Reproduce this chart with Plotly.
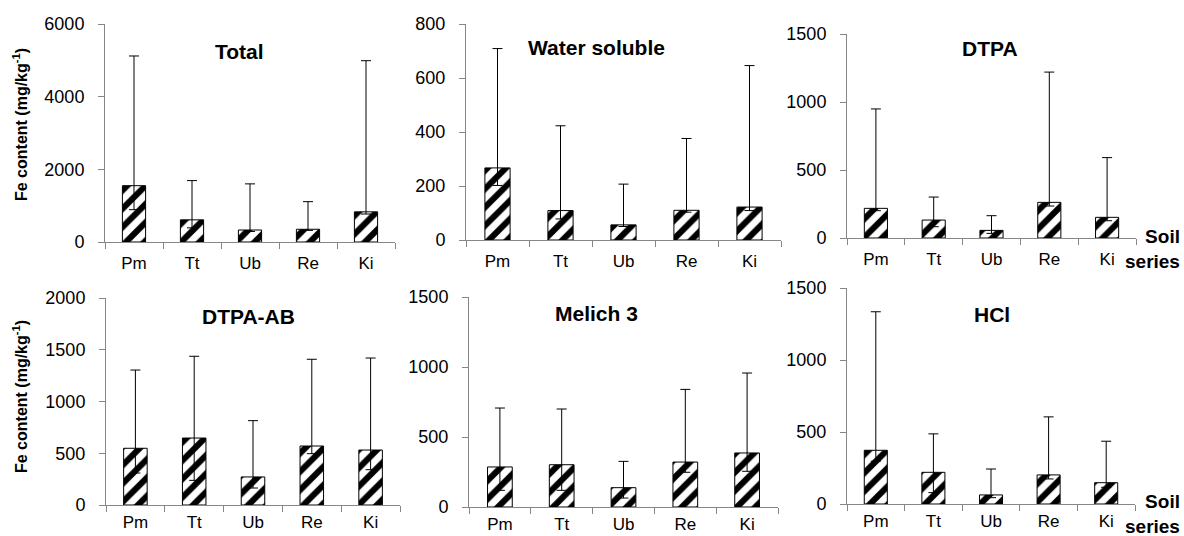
import plotly.graph_objects as go

W, H = 1184, 536

soil = ["Pm", "Tt", "Ub", "Re", "Ki"]

titles = ["Total", "Water soluble", "DTPA", "DTPA-AB", "Melich 3", "HCl"]

# mean (bar), min (lower whisker), max (upper whisker)
total_mean = [1550, 610, 330, 350, 830]
total_min = [890, 390, 290, 320, 770]
total_max = [5120, 1690, 1600, 1110, 4990]

ws_mean = [267, 109, 56, 110, 122]
ws_min = [202, 78, 50, 103, 109]
ws_max = [709, 423, 207, 376, 646]

dtpa_mean = [218, 132, 56, 262, 152]
dtpa_min = [201, 83, 34, 235, 127]
dtpa_max = [949, 301, 164, 1220, 591]

dtpaab_mean = [548, 647, 271, 570, 531]
dtpaab_min = [309, 238, 164, 496, 341]
dtpaab_max = [1304, 1437, 815, 1408, 1420]

mel_mean = [286, 302, 138, 321, 386]
mel_min = [119, 119, 64, 248, 255]
mel_max = [707, 700, 326, 840, 957]

hcl_mean = [373, 220, 63, 202, 148]
hcl_min = [297, 79, 44, 174, 116]
hcl_max = [1335, 487, 243, 605, 436]

y_max = [6000, 800, 1500, 2000, 1500, 1500]
y_dtick = [2000, 200, 500, 500, 500, 500]

series = [
    (total_mean, total_min, total_max),
    (ws_mean, ws_min, ws_max),
    (dtpa_mean, dtpa_min, dtpa_max),
    (dtpaab_mean, dtpaab_min, dtpaab_max),
    (mel_mean, mel_min, mel_max),
    (hcl_mean, hcl_min, hcl_max),
]

# layout (pixel boxes: x0, x1, y_bottom, y_top)
boxes = [
    (105, 395, 242, 24),
    (466, 781, 240, 24),
    (847, 1136, 238, 34),
    (106, 400, 505, 298),
    (469, 778, 507, 297),
    (847, 1135, 504, 288),
]
title_pos = [(239, 51), (596, 47), (990, 49), (248, 316), (596, 313), (992, 314)]

FONT = "Liberation Sans, Arial, sans-serif"
AXC = "#868686"

fig = go.Figure()
layout = dict(
    template="none",
    width=W, height=H, margin=dict(l=0, r=0, t=0, b=0, pad=0, autoexpand=False),
    paper_bgcolor="white", plot_bgcolor="white", showlegend=False,
    font=dict(family=FONT, size=18, color="black"),
)

for i, (mean, mn, mx) in enumerate(series):
    k = "" if i == 0 else str(i + 1)
    fig.add_trace(go.Bar(
        x=soil, y=mean,
        xaxis="x" + k, yaxis="y" + k,
        marker=dict(color="white", line=dict(color="black", width=1),
                    pattern=dict(shape="/", fgcolor="black", bgcolor="white",
                                 size=13, solidity=0.47, fgopacity=1)),
        error_y=dict(type="data", symmetric=False,
                     array=[b - a for a, b in zip(mean, mx)],
                     arrayminus=[a - b for a, b in zip(mean, mn)],
                     color="black", thickness=1, width=5),
        width=0.4,
    ))
    x0, x1, yb, yt = boxes[i]
    layout["xaxis" + k] = dict(
        domain=[x0 / W, x1 / W], anchor="y" + k, type="category",
        range=[-0.5, 4.5], showline=True, linecolor=AXC, linewidth=1,
        ticks="outside", tickson="boundaries", ticklen=6, tickcolor=AXC,
        showgrid=False, zeroline=False, tickfont=dict(size=17),
        ticklabelstandoff=6 if i < 3 else 2, automargin=False,
    )
    layout["yaxis" + k] = dict(
        domain=[1 - yb / H, 1 - yt / H], anchor="x" + k,
        range=[0, y_max[i]], dtick=y_dtick[i], showline=True, linecolor=AXC,
        linewidth=1, ticks="outside", ticklen=6, tickcolor=AXC,
        showgrid=False, zeroline=False, tickfont=dict(size=18),
        ticklabelstandoff=10, automargin=False,
    )

anns = []
for t, (px, py) in zip(titles, title_pos):
    anns.append(dict(text="<b>%s</b>" % t, x=px / W, y=1 - py / H, xref="paper", yref="paper",
                     xanchor="center", yanchor="middle", showarrow=False,
                     font=dict(size=21, family=FONT)))

ytitle = "<b>Fe content (mg/kg<sup>-1</sup>)</b>"
for py in (125, 397):
    anns.append(dict(text=ytitle, x=20 / W, y=1 - py / H, xref="paper", yref="paper",
                     xanchor="center", yanchor="middle", textangle=-90, showarrow=False,
                     font=dict(size=16, family=FONT)))

for py in (249, 514):
    anns.append(dict(text="<b>Soil<br>series</b>", x=1182 / W, y=1 - py / H, xref="paper",
                     yref="paper", xanchor="right", yanchor="middle", align="right",
                     showarrow=False, font=dict(size=19, family=FONT)))

layout["annotations"] = anns
fig.update_layout(**layout)
fig.write_html(
    "out.html",
    config={"displayModeBar": False},
    post_script="document.body.style.margin='0px';document.body.style.padding='0px';"
                "document.body.style.overflow='hidden';",
)
